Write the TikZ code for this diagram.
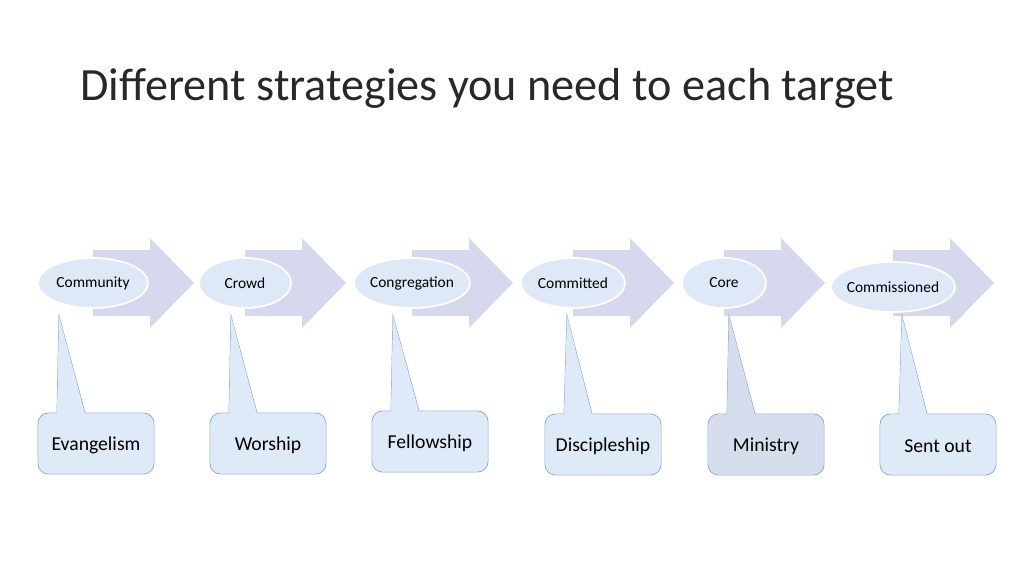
\documentclass[tikz,border=0pt]{standalone}
\usepackage{fontspec}
\setmainfont{Carlito}
\definecolor{arrowfill}{RGB}{214,217,238}
\definecolor{ovalfill}{RGB}{222,232,246}
\definecolor{boxfill}{RGB}{222,234,248}
\definecolor{boxline}{RGB}{140,165,205}
\definecolor{coreboxfill}{RGB}{214,222,238}
\definecolor{titlegray}{RGB}{40,40,40}
\tikzset{
  bigarrow/.style={fill=arrowfill, draw=none},
  stageoval/.style={fill=ovalfill, draw=white, line width=1pt},
  stagelabel/.style={font=\fontsize{8.8}{11}\selectfont},
  callout/.style={fill=boxfill, draw=boxline, line width=0.5pt, rounded corners=6pt},
  calloutlabel/.style={font=\fontsize{11.2}{14}\selectfont}
}
\begin{document}
\begin{tikzpicture}[x=0.02cm,y=-0.02cm]  % ------ stages and strategies -------
  \useasboundingbox (0,0) rectangle (1024,576);
  \node[anchor=base west, inner sep=0pt, text=titlegray, font=\fontsize{26.3}{32}\selectfont] (title) at (80,100) {Different strategies you need to each target};

  % cx / rx / ovaly / stage / box left / box top / tip x / strategy / box fill
  \foreach \cx/\rx/\oy/\stage/\bx/\by/\tx/\strat/\bf [count=\i] in {
      93/55/283/Community/38/413/59/Evangelism/boxfill,
      245/46/283/Crowd/210/413/231/Worship/boxfill,
      412/58/283/Congregation/372/411/393/Fellowship/boxfill,
      573/52/283/Committed/545/414/567/Discipleship/boxfill,
      724/42/283/Core/708/414/729/Ministry/coreboxfill,
      893/62/287/Commissioned/880/414/902/Sent out/boxfill}{
    % block arrow
    \fill[bigarrow] (\cx,250) -- (\cx+57,250) -- (\cx+57,238) -- (\cx+101,283)
        -- (\cx+57,328) -- (\cx+57,316) -- (\cx,316) -- cycle;
    \draw[stageoval] (\cx,\oy) ellipse [x radius=\rx, y radius=25];
    \node[stagelabel] (stage\i) at (\cx,\oy) {\stage};
    % callout box with tail
    \coordinate (tip\i) at (\tx,316);
    \draw[callout] (\bx,\by) rectangle (\bx+116,\by+61);
    \draw[boxline, line width=0.5pt] (\bx+19,\by) -- (tip\i) -- (\bx+47,\by);
    \fill[\bf, rounded corners=6pt] (\bx+0.4,\by+0.4) rectangle (\bx+115.6,\by+60.6);
    \fill[\bf] (\bx+19,\by+1) -- (tip\i) -- (\bx+47,\by+1) -- cycle;
    \node[calloutlabel] (strat\i) at (\bx+58,\by+32) {\strat};
  }
\end{tikzpicture}
\end{document}
